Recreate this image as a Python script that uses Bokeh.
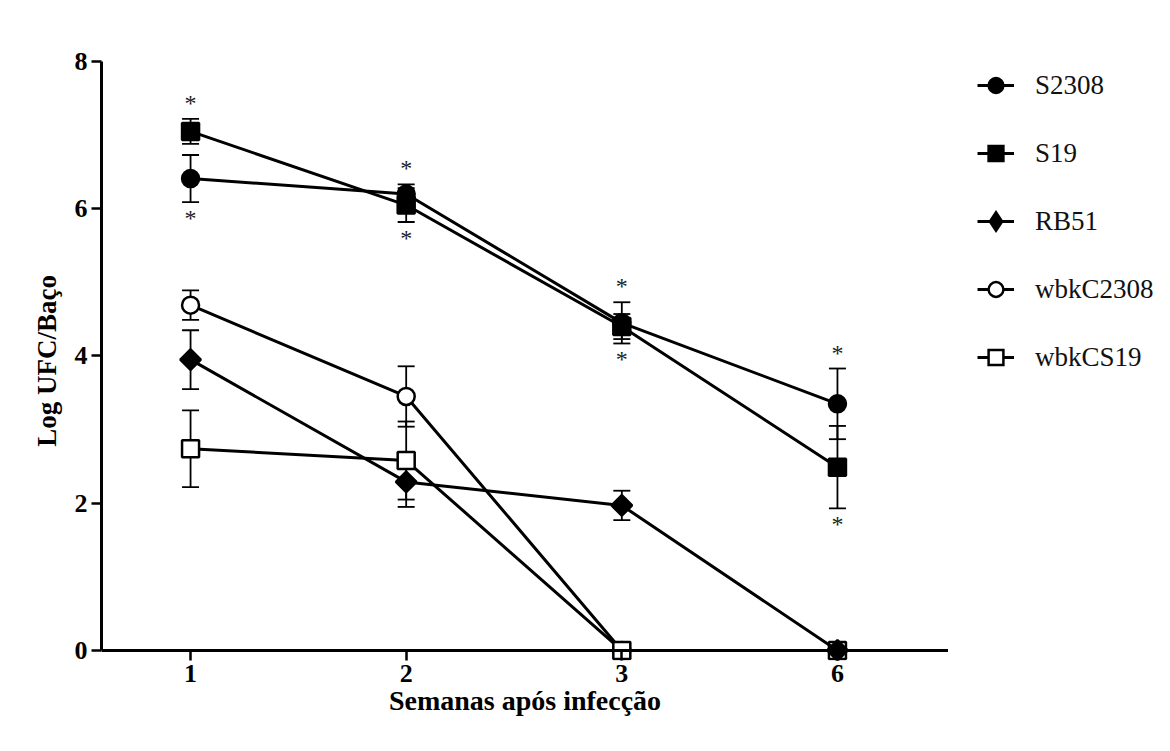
import math
from bokeh.plotting import figure
from bokeh.layouts import row
from bokeh.models import (Range1d, FixedTicker, Whisker, TeeHead, ColumnDataSource,
                          Legend, LegendItem, Span)
from bokeh.core.properties import value
from bokeh.embed import file_html
from bokeh.resources import INLINE

weeks = ["1", "2", "3", "6"]
series_names = ["S2308", "S19", "RB51", "wbkC2308", "wbkCS19"]
s2308 = [6.41, 6.20, 4.45, 3.35]
s2308_err = [0.32, 0.13, 0.28, 0.48]
s19 = [7.05, 6.05, 4.40, 2.49]
s19_err = [0.17, 0.23, 0.17, 0.56]
rb51 = [3.95, 2.29, 1.97, 0.0]
rb51_err = [0.40, 0.34, 0.20, 0.0]
wbkc2308 = [4.69, 3.45, 0.0, 0.0]
wbkc2308_err = [0.20, 0.41, 0.0, 0.0]
wbkcs19 = [2.74, 2.58, 0.0, 0.0]
wbkcs19_err = [0.52, 0.53, 0.0, 0.0]

xpos = [i + 1 for i in range(len(weeks))]
SERIF = "Liberation Serif"

p = figure(frame_width=847, frame_height=599, output_backend="svg", toolbar_location=None,
           x_range=Range1d(0.587, 4.515), y_range=Range1d(-0.136, 8),
           min_border_left=101, min_border_top=61, min_border_bottom=80, min_border_right=0)
p.outline_line_color = None
p.xgrid.visible = False
p.ygrid.visible = False

for ax in (p.xaxis[0], p.yaxis[0]):
    ax.major_tick_line_width = 2.5
    ax.minor_tick_line_color = None
    ax.major_label_text_font = SERIF
    ax.major_label_text_font_style = "bold"
    ax.major_label_text_color = "black"
    ax.major_label_text_font_size = "26px"
    ax.axis_label_text_font = SERIF
    ax.axis_label_text_font_style = "bold"
    ax.axis_label_text_color = "black"

# x axis: line drawn at y = 0 (Span), ticks hang 10px below it
p.xaxis.axis_line_color = None
p.xaxis.major_tick_in = 10
p.xaxis.major_tick_out = 0
p.xaxis.ticker = FixedTicker(ticks=xpos)
p.xaxis.major_label_overrides = {x: w for x, w in zip(xpos, weeks)}
p.xaxis.major_label_standoff = 4
p.xaxis.axis_label = "Semanas após infecção"
p.xaxis.axis_label_text_font_size = "28px"
p.xaxis.axis_label_standoff = 0
p.add_layout(Span(location=0, dimension="width", line_color="black", line_width=3))

p.yaxis.axis_line_width = 3
p.yaxis.major_tick_in = 0
p.yaxis.major_tick_out = 10
p.yaxis.bounds = (0, 8)
p.yaxis.ticker = FixedTicker(ticks=[0, 2, 4, 6, 8])
p.yaxis.major_label_standoff = 4
p.yaxis.axis_label = "Log UFC/Baço"
p.yaxis.axis_label_text_font_size = "27px"
p.yaxis.axis_label_standoff = 10

specs = {
    "S2308": (s2308, s2308_err, "circle", "black", 17, 0.0),
    "S19": (s19, s19_err, "square", "black", 17, 0.0),
    "RB51": (rb51, rb51_err, "square", "black", 14.5, math.pi / 4),
    "wbkC2308": (wbkc2308, wbkc2308_err, "circle", "white", 17, 0.0),
    "wbkCS19": (wbkcs19, wbkcs19_err, "square", "white", 17, 0.0),
}
draw_order = ["S2308", "S19", "wbkC2308", "wbkCS19", "RB51"]

for name in draw_order:
    vals, errs, marker, fill, size, ang = specs[name]
    keep = [i for i, e in enumerate(errs) if e > 0]
    esrc = ColumnDataSource(dict(
        x=[xpos[i] for i in keep],
        upper=[vals[i] + errs[i] for i in keep],
        lower=[vals[i] - errs[i] for i in keep]))
    w = Whisker(source=esrc, base="x", upper="upper", lower="lower", dimension="height",
                line_color="black", line_width=1.8,
                upper_head=TeeHead(size=17, line_width=1.8, line_color="black"),
                lower_head=TeeHead(size=17, line_width=1.8, line_color="black"))
    p.add_layout(w)
    src = ColumnDataSource(dict(x=xpos, y=vals))
    p.line("x", "y", source=src, line_color="black", line_width=3)
    p.scatter("x", "y", source=src, marker=marker, size=size, angle=ang,
              fill_color=fill, line_color="black", line_width=2.5)

# significance asterisks above / below the S2308 and S19 error bars
tops = [max(a + ea, b + eb) for a, ea, b, eb in zip(s2308, s2308_err, s19, s19_err)]
bots = [min(a - ea, b - eb) for a, ea, b, eb in zip(s2308, s2308_err, s19, s19_err)]
p.text(x=xpos, y=tops, text=["*"] * len(xpos), text_font=value(SERIF), text_font_size="24px",
       text_align="center", text_baseline="middle", y_offset=-16, text_color="#222222")
p.text(x=xpos, y=bots, text=["*"] * len(xpos), text_font=value(SERIF), text_font_size="24px",
       text_align="center", text_baseline="middle", y_offset=16, text_color="#222222")

# legend panel to the right of the plot (legend-only renderers hold a NaN point: nothing drawn)
q = figure(width=212, height=740, output_backend="svg", toolbar_location=None,
           x_range=Range1d(0, 1), y_range=Range1d(0, 1),
           min_border_left=0, min_border_right=0, min_border_top=0, min_border_bottom=0)
q.axis.visible = False
q.grid.visible = False
q.outline_line_color = None

legend_markers = {"S2308": ("circle", "black", 2.5), "S19": ("square", "black", 2.5),
                  "RB51": ("diamond", "black", 4.5), "wbkC2308": ("circle", "white", 2.5),
                  "wbkCS19": ("square", "white", 2.5)}
nan = float("nan")
items = []
for name in series_names:
    mk, fill, lw = legend_markers[name]
    lr = q.line(x=[nan, nan], y=[nan, nan], line_color="black", line_width=3)
    sr = q.scatter(x=[nan], y=[nan], marker=mk, size=16, fill_color=fill,
                   line_color="black", line_width=lw, line_join="miter")
    items.append(LegendItem(label=name, renderers=[lr, sr]))

legend = Legend(items=items, location=(29, 283), margin=0, padding=8, spacing=28,
                glyph_width=37, glyph_height=40, label_height=40, label_standoff=21,
                label_text_font=SERIF, label_text_font_size="27px", label_text_color="#111111",
                border_line_color=None, background_fill_alpha=0)
q.add_layout(legend)

layout = row(p, q)
open("out.html", "w").write(file_html(layout, INLINE))
